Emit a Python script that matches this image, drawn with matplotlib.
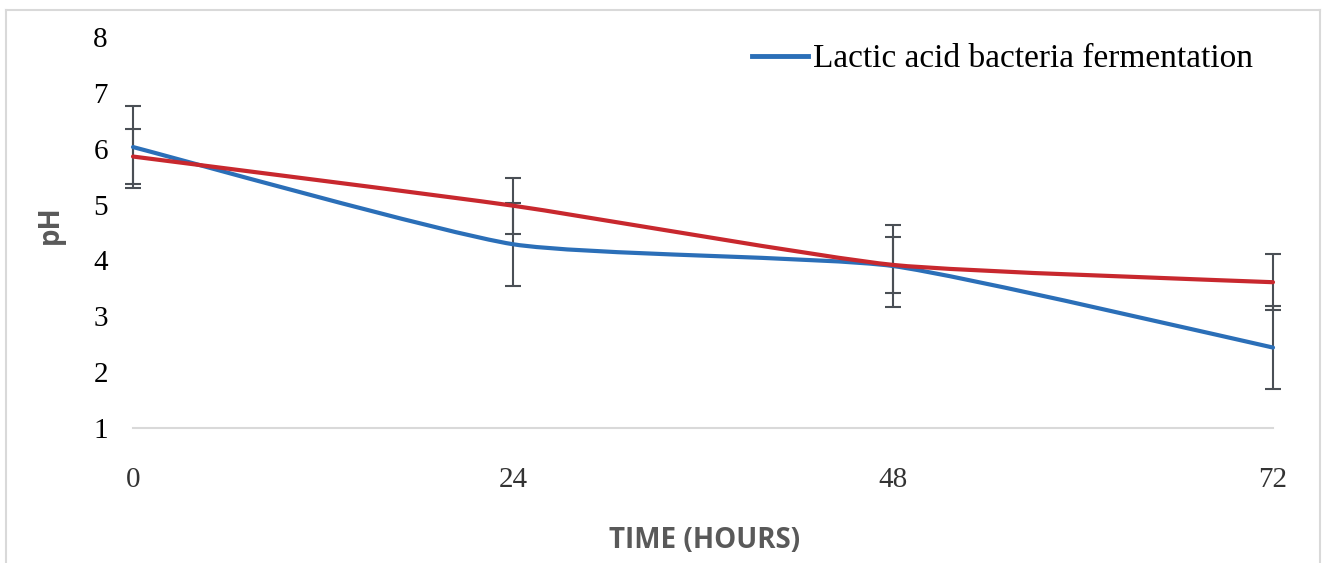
import numpy as np
import matplotlib
matplotlib.use('Agg')
import matplotlib.pyplot as plt
from matplotlib.path import Path
from matplotlib.patches import PathPatch
from matplotlib.lines import Line2D

# data
hours = [0, 24, 48, 72]
ph_lab = [6.03, 4.29, 3.90, 2.44]      # lactic acid bacteria fermentation (blue)
err_lab = [0.73, 0.74, 0.74, 0.75]
ph_ctrl = [5.86, 4.98, 3.92, 3.61]     # second series (red)
err_ctrl = [0.50, 0.50, 0.50, 0.50]
yticks = [1, 2, 3, 4, 5, 6, 7, 8]
xticks = [0, 24, 48, 72]

blue = '#2b6fb8'
red = '#c8282e'
grey = '#595959'


def smooth_path(x, y, k=0.09):
    # smoothed line like excel: cubic bezier through every point
    pts = np.column_stack([x, y]).astype(float)
    n = len(pts)
    verts = [pts[0]]
    codes = [Path.MOVETO]
    for i in range(n - 1):
        p0 = pts[i - 1] if i > 0 else pts[i]
        p1 = pts[i]
        p2 = pts[i + 1]
        p3 = pts[i + 2] if i + 2 < n else pts[i + 1]
        c1 = p1 + (p2 - p0) * k
        c2 = p2 - (p3 - p1) * k
        verts += [c1, c2, p2]
        codes += [Path.CURVE4] * 3
    return Path(verts, codes)


fig = plt.figure(figsize=(13.24, 5.63), dpi=100)
ax = fig.add_axes([133/1324, 1-428/563, 1140/1324, 391/563])

for yv, ev in [(ph_lab, err_lab), (ph_ctrl, err_ctrl)]:
    eb = ax.errorbar(hours, yv, yerr=ev, fmt='none', ecolor='#4a4f55',
                     elinewidth=1.5, capsize=5.5, capthick=1.5, zorder=2)
    for part in eb.lines:
        for a in (part if isinstance(part, tuple) else [part]):
            if a is not None:
                a.set_clip_on(False)

ax.add_patch(PathPatch(smooth_path(hours, ph_lab), fill=False, edgecolor=blue,
                       lw=3, capstyle='round', zorder=3, clip_on=False))
ax.add_patch(PathPatch(smooth_path(hours, ph_ctrl), fill=False, edgecolor=red,
                       lw=3, capstyle='round', zorder=4, clip_on=False))

ax.set_xlim(0, 72)
ax.set_ylim(1, 8)
ax.set_xticks(xticks)
ax.set_yticks(yticks)
ax.tick_params(length=0)
ax.tick_params(axis='y', pad=18, labelsize=21)
ax.tick_params(axis='x', pad=28, labelsize=21, labelcolor='#333333')
for lab in ax.get_xticklabels() + ax.get_yticklabels():
    lab.set_family('Liberation Serif')

for s in ['top', 'right', 'left']:
    ax.spines[s].set_visible(False)
ax.spines['bottom'].set_color('#d9d9d9')
ax.spines['bottom'].set_linewidth(1.5)
ax.patch.set_visible(False)

fig.text(705/1324, 1-540/563, 'TIME (HOURS)', ha='center', va='center',
         fontsize=20, fontweight='bold', color=grey, family='Open Sans')
fig.text(50/1324, 1-225/563, 'pH', ha='center', va='center', rotation=90,
         fontsize=20, fontweight='bold', color=grey, family='Open Sans')

leg = ax.legend(handles=[Line2D([], [], color=blue, lw=3.5)],
                labels=['Lactic acid bacteria fermentation'],
                loc='center left', bbox_to_anchor=(752/1324, 1-59/563),
                bbox_transform=fig.transFigure, frameon=False, borderpad=0,
                borderaxespad=0, handlelength=1.68, handletextpad=0.15,
                prop={'family': 'Liberation Serif', 'size': 24})

# outer frame of the figure
fc = '#d9d9d9'
fig.add_artist(Line2D([6/1324, 6/1324], [0, 1-9.5/563], color=fc, lw=1.5))
fig.add_artist(Line2D([6/1324, 1320/1324], [1-9.5/563, 1-9.5/563], color=fc, lw=1.5))
fig.add_artist(Line2D([1320/1324, 1320/1324], [0, 1-9.5/563], color=fc, lw=1.5))

fig.savefig('out.png', dpi=100)
